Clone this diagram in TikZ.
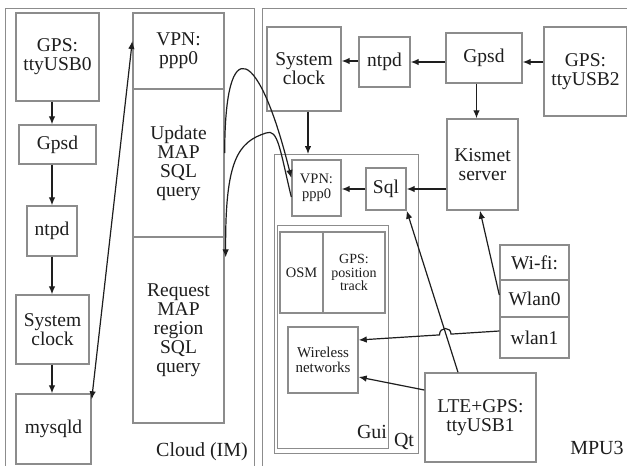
\documentclass[tikz,border=0pt]{standalone}
\usepackage{fontspec}
\setmainfont{Liberation Serif}
\usetikzlibrary{arrows.meta}
\definecolor{boxgray}{HTML}{8C8C8C}
\definecolor{ink}{HTML}{1E1E1E}
\begin{document}
\begin{tikzpicture}[x=1pt,y=-1pt,
  box/.style={draw=boxgray, line width=1.4pt, inner sep=0pt, align=center,
    text=ink, font=\fontsize{19.5}{19}\selectfont},
  smallbox/.style={box, font=\fontsize{14.5}{14.5}\selectfont},
  frame/.style={draw=boxgray, line width=1.4pt, inner sep=0pt, anchor=north west},
  lbl/.style={text=ink, inner sep=0pt, font=\fontsize{20}{20}\selectfont},
  tip/.style={-{Latex[length=8pt,width=6.5pt]}},
  arr/.style={draw=ink, line width=1.2pt, tip},
  darr/.style={draw=ink, line width=1.2pt, {Latex[length=8pt,width=6.5pt]}-{Latex[length=8pt,width=6.5pt]}}]
\useasboundingbox (0,0) rectangle (627,466);
\clip (0,0) rectangle (627,466);
\fill[white] (0,0) rectangle (627,466);

% outer frames
\node[frame, minimum width=249pt, minimum height=480pt] (cloud) at (5,8) {};
\node[frame, minimum width=390pt, minimum height=480pt] (mpu) at (262,8) {};
\node[lbl] (cloudlbl) at (202,452) {Cloud (IM)};
\node[lbl] (mpulbl) at (597,448) {MPU3};

% cloud: time chain
\node[box, minimum width=83pt, minimum height=88pt] (gps0) at (57.5,57) {GPS:\\ttyUSB0};
\node[box, minimum width=77pt, minimum height=39pt] (gpsd0) at (57.5,144.5) {Gpsd};
\node[box, minimum width=50pt, minimum height=50pt] (ntpd0) at (52,231) {ntpd};
\node[box, minimum width=73pt, minimum height=69pt] (clk0) at (52.5,329.5) {System\\clock};
\node[box, minimum width=75pt, minimum height=70pt] (mysql) at (53.5,429) {mysqld};

% cloud: query column
\node[box, minimum width=91pt, minimum height=76pt] (vpn0) at (178.5,51) {VPN:\\ppp0};
\node[box, minimum width=91pt, minimum height=148pt] (upd) at (178.5,163) {Update\\MAP\\SQL\\query};
\node[box, minimum width=91pt, minimum height=186pt] (req) at (178.5,330) {Request\\MAP\\region\\SQL\\query};

\draw[arr] (gps0.south -| ntpd0.center) -- (gpsd0.north -| ntpd0.center);
\draw[arr] (gpsd0.south -| ntpd0.center) -- (ntpd0.north);
\draw[arr] (ntpd0.south) -- (clk0.north -| ntpd0.center);
\draw[arr] (clk0.south -| ntpd0.center) -- (mysql.north -| ntpd0.center);
\draw[darr] ([yshift=-6pt]mysql.north east) -- ([yshift=10pt]vpn0.west);

% MPU3 boxes
\node[box, minimum width=74pt, minimum height=84pt] (clk3) at (304,69) {System\\clock};
\node[box, minimum width=51pt, minimum height=50pt] (ntpd3) at (384.5,62) {ntpd};
\node[box, minimum width=76pt, minimum height=50pt] (gpsd3) at (484,58) {Gpsd};
\node[box, minimum width=83pt, minimum height=89pt] (gps2) at (585.5,71.5) {GPS:\\ttyUSB2};
\node[box, minimum width=71pt, minimum height=91pt] (kis) at (482.5,164.5) {Kismet\\server};

\node[frame, minimum width=144pt, minimum height=299pt] (qt) at (274,154) {};
\node[frame, minimum width=111pt, minimum height=223pt] (gui) at (277,225) {};
\node[lbl] (qtlbl) at (404,441) {Qt};
\node[lbl] (guilbl) at (372,432) {Gui};

\node[smallbox, minimum width=49pt, minimum height=56pt] (vpn3) at (316.5,188) {VPN:\\ppp0};
\node[box, minimum width=40pt, minimum height=42pt] (sql) at (386,189) {Sql};
\node[smallbox, minimum width=43pt, minimum height=81pt] (osm) at (301.5,272.5) {OSM};
\node[smallbox, font=\fontsize{14}{13.5}\selectfont, minimum width=62pt, minimum height=81pt] (gpsp) at (354,272.5) {GPS:\\position\\track};
\node[smallbox, font=\fontsize{15}{15}\selectfont, minimum width=70pt, minimum height=66pt] (wn) at (323,360) {Wireless\\networks};

\node[box, minimum width=69pt, minimum height=35pt] (wifi) at (534.5,262.5) {Wi-fi:};
\node[box, minimum width=69pt, minimum height=37pt] (wlan0) at (534.5,298.5) {Wlan0};
\node[box, minimum width=69pt, minimum height=41pt] (wlan1) at (534.5,337.5) {wlan1};
\node[box, minimum width=111pt, minimum height=89pt] (lte) at (480.5,417.5) {LTE+GPS:\\ttyUSB1};

% MPU3 connectors
\draw[arr] ([yshift=-4pt]gpsd3.east -| gps2.west) -- ([yshift=-4pt]gpsd3.east);
\draw[arr] (gpsd3.west |- ntpd3.east) -- (ntpd3.east);
\draw[arr] ([yshift=1pt]ntpd3.west) -- ([yshift=1pt]ntpd3.west -| clk3.east);
\draw[arr] ([xshift=-6pt]gpsd3.south -| kis.north) -- ([xshift=-6pt]kis.north);
\draw[arr] ([xshift=4pt]clk3.south) -- ([xshift=4pt]clk3.south |- qt.north);
\draw[arr] (kis.west |- sql.east) -- (sql.east);
\draw[arr] (sql.west) -- (sql.west -| vpn3.east);
\draw[arr] ([yshift=3.5pt]wlan0.west) -- ([xshift=-2.5pt]kis.south);
\draw[arr] ([xshift=-22.5pt]lte.north) -- (sql.south east);
% wlan1 line hops over the LTE link
\draw[arr] ([yshift=6.5pt]wlan1.west) -- (451,334.1)
  .. controls (451,326.5) and (439.5,326.5) .. (439.5,334.9)
  -- ([yshift=20pt]wn.east);
\draw[arr] ([yshift=27.5pt]lte.west) -- ([yshift=-17pt]wn.east);

% links between the cloud queries and the MPU3 VPN
\draw[arr] ([yshift=10pt]upd.east) .. controls +(0,-125) and +(-32,-130) .. ([yshift=10pt]vpn3.west);
\draw[arr] ([yshift=-9pt]vpn3.west) .. controls (280,150) and (278,128) .. (266,133)
  .. controls (238,142) and (225,160) .. ([xshift=1pt,yshift=-21pt]req.north east);
\end{tikzpicture}
\end{document}
